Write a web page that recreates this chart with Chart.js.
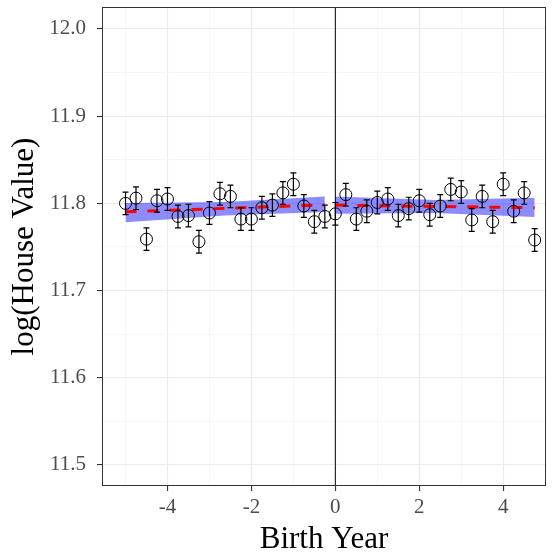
<!DOCTYPE html>
<html>
<head>
<meta charset="utf-8">
<script src="https://cdn.jsdelivr.net/npm/chart.js@4"></script>
<style>
  html, body { margin: 0; padding: 0; background: #ffffff; }
  #wrap { width: 553px; height: 556px; }
</style>
</head>
<body>
<div id="wrap"><canvas id="rdChart" width="553" height="556"></canvas></div>
<script>
// binned means by birth year (relative to cutoff)
const birthYear = [-5, -4.75, -4.5, -4.25, -4, -3.75, -3.5, -3.25, -3, -2.75,
  -2.5, -2.25, -2, -1.75, -1.5, -1.25, -1, -0.75, -0.5, -0.25,
  0, 0.25, 0.5, 0.75, 1, 1.25, 1.5, 1.75, 2, 2.25,
  2.5, 2.75, 3, 3.25, 3.5, 3.75, 4, 4.25, 4.5, 4.75];
const logValue = [11.800, 11.806, 11.759, 11.803, 11.805, 11.785, 11.786, 11.756, 11.789, 11.811,
  11.808, 11.782, 11.782, 11.795, 11.798, 11.812, 11.822, 11.797, 11.779, 11.785,
  11.788, 11.810, 11.782, 11.791, 11.801, 11.805, 11.786, 11.794, 11.803, 11.787,
  11.797, 11.816, 11.813, 11.781, 11.808, 11.779, 11.822, 11.791, 11.812, 11.758];
const stdErr = [0.013, 0.013, 0.013, 0.013, 0.013, 0.013, 0.013, 0.013, 0.013, 0.013,
  0.013, 0.013, 0.013, 0.013, 0.013, 0.013, 0.013, 0.013, 0.013, 0.013,
  0.013, 0.013, 0.013, 0.013, 0.013, 0.013, 0.013, 0.013, 0.013, 0.013,
  0.013, 0.013, 0.013, 0.013, 0.013, 0.013, 0.013, 0.013, 0.013, 0.013];

// linear fits each side of the cutoff, with confidence band
const fitLeftX = [-5, -2.625, -0.25];
const fitLeftY = [11.7903, 11.7943, 11.7983];
const bandLeftHi = [11.8003, 11.8015, 11.8080];
const bandLeftLo = [11.7785, 11.7862, 11.7900];
const fitRightX = [0, 2.375, 4.75];
const fitRightY = [11.7980, 11.7965, 11.7950];
const bandRightHi = [11.8080, 11.8040, 11.8065];
const bandRightLo = [11.7880, 11.7890, 11.7843];

const xTicks = [-5, -4, -3, -2, -1, 0, 1, 2, 3, 4, 5];
const xMajor = [-4, -2, 0, 2, 4];
const yTicks = [11.5, 11.55, 11.6, 11.65, 11.7, 11.75, 11.8, 11.85, 11.9, 11.95, 12.0];
const yMajor = [11.5, 11.6, 11.7, 11.8, 11.9, 12.0];

function pts(xs, ys) {
    return xs.map((x, i) => ({ x: x, y: ys[i] }));
}

function isMajor(list, v) {
    return list.some(m => Math.abs(m - v) < 1e-6);
}

const serif = "'Liberation Serif', 'Times New Roman', serif";
const bandColor = "rgba(0, 0, 255, 0.45)";

const errorBars = {
    id: "errorBars",
    afterDatasetsDraw(chart) {
        const ctx = chart.ctx;
        const xs = chart.scales.x, ys = chart.scales.y;
        ctx.save();
        ctx.strokeStyle = "#000000";
        ctx.lineWidth = 1.2;
        birthYear.forEach((bx, i) => {
            const px = xs.getPixelForValue(bx);
            const top = ys.getPixelForValue(logValue[i] + stdErr[i]);
            const bot = ys.getPixelForValue(logValue[i] - stdErr[i]);
            ctx.beginPath();
            ctx.moveTo(px, top); ctx.lineTo(px, bot);
            ctx.moveTo(px - 3, top); ctx.lineTo(px + 3, top);
            ctx.moveTo(px - 3, bot); ctx.lineTo(px + 3, bot);
            ctx.stroke();
        });
        // cutoff line
        const x0 = xs.getPixelForValue(0);
        ctx.beginPath();
        ctx.lineWidth = 1;
        ctx.moveTo(x0, chart.chartArea.top);
        ctx.lineTo(x0, chart.chartArea.bottom);
        ctx.stroke();
        ctx.restore();
    },
    afterDraw(chart) {
        const a = chart.chartArea;
        const ctx = chart.ctx;
        ctx.save();
        ctx.strokeStyle = "#333333";
        ctx.lineWidth = 1;
        ctx.strokeRect(a.left + 0.5, a.top + 0.5, a.right - a.left - 1, a.bottom - a.top - 1);
        ctx.restore();
    }
};

document.addEventListener("DOMContentLoaded", function () {
    let ctx = document.getElementById("rdChart").getContext("2d");

    new Chart(ctx, {
        type: "scatter",
        data: {
            datasets: [
                {
                    label: "Bins",
                    data: pts(birthYear, logValue),
                    pointStyle: "circle",
                    pointRadius: 6,
                    pointBackgroundColor: "rgba(0,0,0,0)",
                    pointBorderColor: "#000000",
                    pointBorderWidth: 1,
                    showLine: false,
                    order: 0
                },
                {
                    label: "Fit left",
                    data: pts(fitLeftX, fitLeftY),
                    showLine: true,
                    borderColor: "#ff0000",
                    borderWidth: 3,
                    borderDash: [11, 11],
                    pointRadius: 0,
                    fill: false,
                    order: 1
                },
                {
                    label: "Fit right",
                    data: pts(fitRightX, fitRightY),
                    showLine: true,
                    borderColor: "#ff0000",
                    borderWidth: 3,
                    borderDash: [11, 11],
                    pointRadius: 0,
                    fill: false,
                    order: 1
                },
                {
                    label: "Band left hi",
                    data: pts(fitLeftX, bandLeftHi),
                    showLine: true,
                    borderWidth: 0,
                    borderColor: "rgba(0,0,0,0)",
                    backgroundColor: bandColor,
                    pointRadius: 0,
                    fill: "+1",
                    order: 2
                },
                {
                    label: "Band left lo",
                    data: pts(fitLeftX, bandLeftLo),
                    showLine: true,
                    borderWidth: 0,
                    borderColor: "rgba(0,0,0,0)",
                    pointRadius: 0,
                    fill: false,
                    order: 2
                },
                {
                    label: "Band right hi",
                    data: pts(fitRightX, bandRightHi),
                    showLine: true,
                    borderWidth: 0,
                    borderColor: "rgba(0,0,0,0)",
                    backgroundColor: bandColor,
                    pointRadius: 0,
                    fill: "+1",
                    order: 2
                },
                {
                    label: "Band right lo",
                    data: pts(fitRightX, bandRightLo),
                    showLine: true,
                    borderWidth: 0,
                    borderColor: "rgba(0,0,0,0)",
                    pointRadius: 0,
                    fill: false,
                    order: 2
                }
            ]
        },
        options: {
            responsive: false,
            animation: false,
            layout: { padding: { top: 7, right: 6, left: 0, bottom: 0 } },
            plugins: {
                legend: { display: false },
                tooltip: { enabled: false }
            },
            scales: {
                x: {
                    type: "linear",
                    min: -5.56,
                    max: 5.02,
                    afterBuildTicks: scale => { scale.ticks = xTicks.map(v => ({ value: v })); },
                    afterFit: scale => {
                        scale.height = 70;
                        scale.paddingLeft = 0;
                        scale.paddingRight = 0;
                    },
                    ticks: {
                        color: "#4d4d4d",
                        font: { family: serif, size: 21 },
                        padding: 4,
                        maxRotation: 0,
                        callback: v => isMajor(xMajor, v) ? String(v) : ""
                    },
                    grid: {
                        color: c => isMajor(xMajor, c.tick.value) ? "#ebebeb" : "#f4f4f4",
                        lineWidth: c => isMajor(xMajor, c.tick.value) ? 1.1 : 0.8,
                        tickColor: c => isMajor(xMajor, c.tick.value) ? "#333333" : "rgba(0,0,0,0)",
                        tickLength: 5
                    },
                    border: { display: false },
                    title: {
                        display: true,
                        text: "Birth Year",
                        color: "#000000",
                        font: { family: serif, size: 31 },
                        padding: { top: 0, bottom: -2 }
                    }
                },
                y: {
                    type: "linear",
                    min: 11.4759,
                    max: 12.0252,
                    afterBuildTicks: scale => { scale.ticks = yTicks.map(v => ({ value: v })); },
                    afterFit: scale => {
                        scale.width = 102;
                        scale.paddingTop = 0;
                        scale.paddingBottom = 0;
                    },
                    ticks: {
                        color: "#4d4d4d",
                        font: { family: serif, size: 21 },
                        padding: 11,
                        callback: v => isMajor(yMajor, v) ? v.toFixed(1) : ""
                    },
                    grid: {
                        color: c => isMajor(yMajor, c.tick.value) ? "#ebebeb" : "#f4f4f4",
                        lineWidth: c => isMajor(yMajor, c.tick.value) ? 1.1 : 0.8,
                        tickColor: c => isMajor(yMajor, c.tick.value) ? "#333333" : "rgba(0,0,0,0)",
                        tickLength: 5
                    },
                    border: { display: false },
                    title: {
                        display: true,
                        text: "log(House Value)",
                        color: "#000000",
                        font: { family: serif, size: 31 },
                        padding: { top: 6, bottom: 0 }
                    }
                }
            }
        },
        plugins: [errorBars]
    });
});
</script>
</body>
</html>
